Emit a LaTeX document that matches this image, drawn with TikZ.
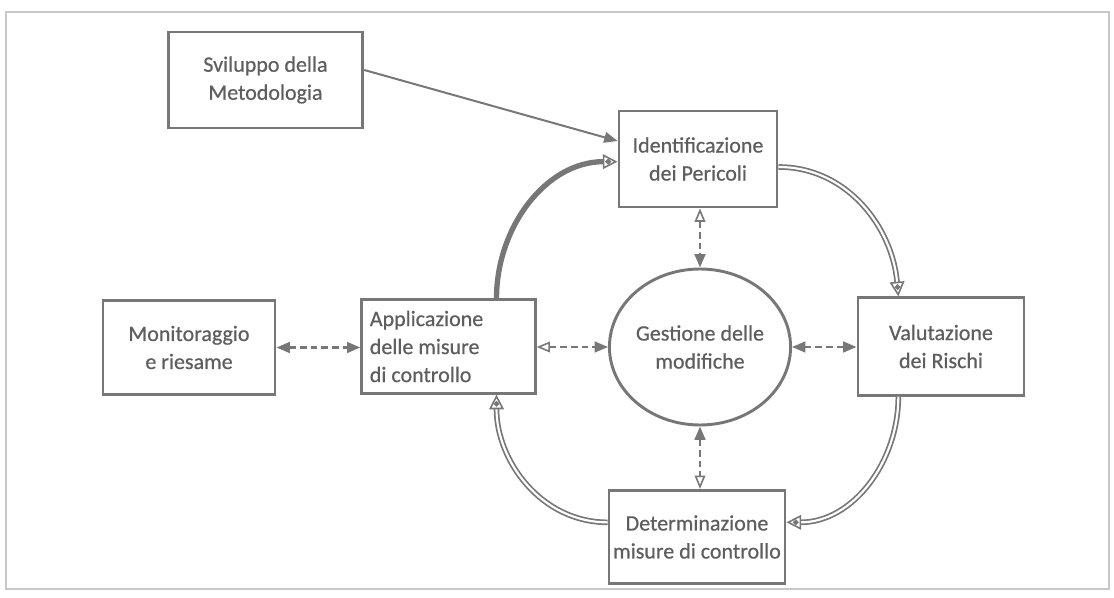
\documentclass[tikz,border=0pt]{standalone}
\usepackage{fontspec}
\setmainfont{Carlito}
\newfontfamily\diagfont[FakeBold=0.6]{Carlito}
\usepackage{xcolor}
\usetikzlibrary{arrows.meta, shapes.geometric, positioning}

\definecolor{linegray}{HTML}{777777}
\definecolor{textgray}{HTML}{5E5E5E}
\definecolor{framegray}{HTML}{C8C8C8}

\tikzset{
    block/.style={draw=linegray, line width=2.2pt, text=textgray, align=center, inner sep=0pt,
        font=\diagfont\fontsize{16.5}{21}\selectfont},
    dottip/.tip={Circle[length=4pt,sep=-6pt] Triangle[open,length=11pt,width=11pt,line width=1.2pt]},
    fulltip/.tip={Triangle[length=10pt,width=8pt]},
    opentip/.tip={Triangle[open,length=10pt,width=8pt,line width=1.2pt]},
    link/.style={draw=linegray, line width=1.8pt, dash pattern=on 5pt off 3pt},
    flow/.style={draw=linegray, line width=1.3pt, double=white, double distance=1.6pt, -dottip},
}

\begin{document}
\begin{tikzpicture}[x=0.75pt, y=-0.75pt]
    \useasboundingbox (0,0) rectangle (1114,598);
    % outer frame
    \draw[framegray, line width=0.8pt] (6,12) rectangle (1109,589);

    % Nodes of the cycle
    \node[block, minimum width=146pt, minimum height=72pt] (svil) at (265.5,80) {Sviluppo della\\Metodologia};
    \node[block, minimum width=118.5pt, minimum height=72pt] (ident) at (698,159) {Identificazione\\dei Pericoli};
    \node[block, minimum width=129pt, minimum height=71pt] (monit) at (189,347.5) {Monitoraggio\\e riesame};
    \node[block, align=flush left, text width=118pt, inner xsep=6pt, minimum height=70pt] (appl) at (448.5,346.5) {Applicazione\\delle misure\\di controllo};
    \node[block, ellipse, minimum width=132pt, minimum height=117pt] (gest) at (700,347) {Gestione delle\\modifiche};
    \node[block, minimum width=124.5pt, minimum height=73pt] (valut) at (941,346.5) {Valutazione\\dei Rischi};
    \node[block, minimum width=132pt, minimum height=70pt] (determ) at (697,537) {Determinazione\\misure di controllo};

    % Methodology input
    \draw[draw=linegray, line width=1.5pt, -fulltip] ([yshift=7.5pt]svil.east) -- ([yshift=13.5pt]ident.west);

    % Main loop
    \draw[draw=linegray, line width=4pt, -dottip] ([xshift=36pt]appl.north) to[out=90, in=180] ([yshift=-2pt]ident.west);
    \draw[flow] ([yshift=-6pt]ident.east) to[out=0, in=95] ([xshift=-32pt]valut.north);
    \draw[flow] ([xshift=-32pt]valut.south) to[out=-90, in=0] ([yshift=11pt]determ.east);
    \draw[flow] ([yshift=11pt]determ.west) to[out=180, in=-90] ([xshift=36pt]appl.south);

    % Links with the management of changes
    \draw[link, fulltip-fulltip] (monit.east) -- (monit.east -| appl.west);
    \draw[link, opentip-fulltip] (appl.east |- gest.west) -- (gest.west);
    \draw[link, fulltip-fulltip] (gest.east) -- (gest.east -| valut.west);
    \draw[link, opentip-fulltip] (gest.north |- ident.south) -- (gest.north);
    \draw[link, fulltip-opentip] (gest.south) -- (gest.south |- determ.north);
\end{tikzpicture}
\end{document}
